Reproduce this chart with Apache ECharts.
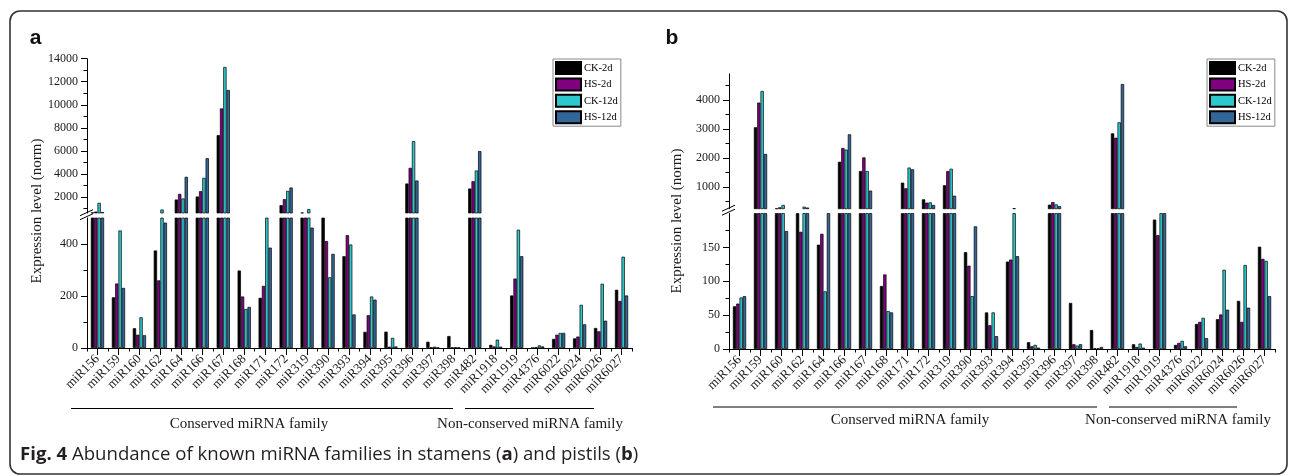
<!DOCTYPE html>
<html><head><meta charset="utf-8">
<script src="https://cdn.jsdelivr.net/npm/echarts@6/dist/echarts.min.js"></script>
<style>html,body{margin:0;padding:0;background:#fff}#c{width:1290px;height:476px}</style>
</head><body><div id="c"></div>
<script>
// ---------- data ----------
const categories = ['miR156','miR159','miR160','miR162','miR164','miR166','miR167','miR168','miR171','miR172','miR319','miR390','miR393','miR394','miR395','miR396','miR397','miR398','miR482','miR1918','miR1919','miR4376','miR6022','miR6024','miR6026','miR6027'];
const seriesNames = ['CK-2d','HS-2d','CK-12d','HS-12d'];
// panel a: stamens
const stamenCK2d  = [650, 195, 76, 375, 1770, 2030, 7360, 298, 193, 1280, 640, 510, 353, 62, 63, 3160, 24, 46, 2725, 12, 202, 1, 35, 37, 77, 224];
const stamenHS2d  = [720, 248, 51, 260, 2260, 2490, 9680, 198, 239, 1800, 520, 411, 434, 126, 5, 4520, 3, 2, 3360, 6, 267, 3, 51, 44, 64, 181];
const stamenCK12d = [1480, 452, 118, 900, 1860, 3650, 13280, 150, 520, 2520, 930, 272, 398, 198, 39, 6840, 5, 3, 4290, 32, 455, 10, 58, 166, 247, 351];
const stamenHS12d = [680, 231, 49, 482, 3740, 5360, 11280, 158, 386, 2810, 463, 362, 129, 186, 6, 3420, 2, 2, 5970, 5, 353, 6, 58, 91, 105, 202];
// panel b: pistils
const pistilCK2d  = [63, 3060, 265, 220, 154, 1870, 1550, 93, 1150, 575, 1060, 143, 54, 129, 10, 390, 68, 28, 2850, 7, 191, 6, 37, 44, 71, 151];
const pistilHS2d  = [67, 3910, 300, 173, 170, 2345, 2020, 110, 955, 460, 1550, 123, 35, 132, 4, 480, 7, 1, 2700, 3, 168, 9, 40, 51, 40, 133];
const pistilCK12d = [76, 4310, 380, 320, 85, 2290, 1550, 56, 1670, 470, 1630, 78, 54, 270, 6, 400, 5, 1, 3230, 8, 220, 12, 46, 117, 124, 130];
const pistilHS12d = [78, 2140, 174, 290, 220, 2815, 875, 54, 1610, 380, 700, 181, 19, 137, 2, 340, 7, 3, 4550, 2, 220, 4, 16, 58, 61, 78];
// tick labels
const aUpperTicks = [2000, 4000, 6000, 8000, 10000, 12000, 14000];
const aUpperMinor = [1000, 3000, 5000, 7000, 9000, 11000, 13000];
const aLowerTicks = [0, 200, 400];
const aLowerMinor = [100, 300];
const bUpperTicks = [1000, 2000, 3000, 4000];
const bUpperMinor = [500, 1500, 2500, 3500, 4500];
const bLowerTicks = [0, 50, 100, 150];
const bLowerMinor = [25, 75, 125, 175];
const groupLabels = ['Conserved miRNA family', 'Non-conserved miRNA family'];
const yTitle = 'Expression level (norm)';

// ---------- styles ----------
const SERIF = 'Liberation Serif';
const colors = ['#000000', '#800080', '#2cc8cc', '#336699'];

const grids = [
  {left: 87, top: 58.7, width: 545, height: 154.3},   // a upper
  {left: 87, top: 218, width: 545, height: 130},      // a lower
  {left: 729, top: 73.9, width: 546, height: 134.85}, // b upper
  {left: 729, top: 213.5, width: 546, height: 135.5}  // b lower
];

function yMain(g, min, max, ticks) {
  return {type: 'value', gridIndex: g, min: min, max: max, position: 'left',
    splitLine: {show: false},
    axisLine: {show: true, lineStyle: {color: '#000', width: 1}},
    axisTick: {show: true, inside: false, length: 6, customValues: ticks, lineStyle: {color: '#000'}},
    axisLabel: {show: true, customValues: ticks, margin: 9, fontFamily: SERIF, fontSize: 12, color: '#1a1a1a',
      formatter: function (v) { return String(v); }}};
}
function yMinor(g, min, max, ticks) {
  return {type: 'value', gridIndex: g, min: min, max: max, position: 'left', offset: 0,
    splitLine: {show: false},
    axisLine: {show: false},
    axisTick: {show: true, inside: false, length: 3.5, customValues: ticks, lineStyle: {color: '#000'}},
    axisLabel: {show: false}};
}
function xMain(g) {
  return {type: 'category', gridIndex: g, data: categories, position: 'bottom', boundaryGap: true,
    axisLine: {show: true, onZero: false, lineStyle: {color: '#000', width: 1}},
    axisTick: {show: true, alignWithLabel: true, interval: 0, length: 7, lineStyle: {color: '#000'}},
    axisLabel: {interval: 0, rotate: 45, margin: 9, fontFamily: SERIF, fontSize: 13, color: '#1a1a1a'}};
}
function xMinor(g) {
  return {type: 'category', gridIndex: g, data: categories, position: 'bottom', boundaryGap: true,
    axisLine: {show: false, onZero: false},
    axisTick: {show: true, interval: 0, length: 3.5, lineStyle: {color: '#000'}},
    axisLabel: {show: false}};
}
function xHidden(g) {
  return {type: 'category', gridIndex: g, data: categories, show: false, boundaryGap: true};
}

const xAxis = [xHidden(0), xMain(1), xMinor(1), xHidden(2), xMain(3), xMinor(3)];
const yAxis = [
  yMain(0, 600, 14000, aUpperTicks), yMinor(0, 600, 14000, aUpperMinor),
  yMain(1, 0, 500, aLowerTicks), yMinor(1, 0, 500, aLowerMinor),
  yMain(2, 250, 4900, bUpperTicks), yMinor(2, 250, 4900, bUpperMinor),
  yMain(3, 0, 200, bLowerTicks), yMinor(3, 0, 200, bLowerMinor)
];

const stamen = [stamenCK2d, stamenHS2d, stamenCK12d, stamenHS12d];
const pistil = [pistilCK2d, pistilHS2d, pistilCK12d, pistilHS12d];
const series = [];
function addBars(dataSets, xIdx, yIdx) {
  dataSets.forEach((d, i) => {
    series.push({type: 'bar', name: seriesNames[i], data: d, xAxisIndex: xIdx, yAxisIndex: yIdx,
      barWidth: 3.3, barGap: '0%', clip: true, silent: true,
      itemStyle: {color: colors[i], borderColor: '#000', borderWidth: 0.7}});
  });
}
addBars(stamen, 0, 0);
addBars(stamen, 1, 2);
addBars(pistil, 3, 4);
addBars(pistil, 4, 6);

function legendAt(left) {
  return {data: seriesNames, orient: 'vertical', left: left, top: 59,
    itemWidth: 25, itemHeight: 12, itemGap: 2.4, icon: 'rect',
    padding: [2, 3, 2, 2], borderColor: '#888', borderWidth: 1, backgroundColor: '#fff',
    selectedMode: false,
    textStyle: {fontFamily: SERIF, fontSize: 10.5, color: '#000', padding: [0, 0, 0, -2]}};
}

function breakMarks(x, yc) {
  return [
    {type: 'line', shape: {x1: x - 7, y1: yc + 1.2, x2: x + 6, y2: yc - 4.8}, style: {stroke: '#000', lineWidth: 1}},
    {type: 'line', shape: {x1: x - 7, y1: yc + 5.2, x2: x + 6, y2: yc - 0.8}, style: {stroke: '#000', lineWidth: 1}}
  ];
}
function txt(x, y, text, opt) {
  return {type: 'text', x: x, y: y, style: Object.assign({text: text, fontFamily: SERIF, fontSize: 15, fill: '#1a1a1a', align: 'center', verticalAlign: 'middle'}, opt || {})};
}
function hline(x1, x2, y) {
  return {type: 'line', shape: {x1: x1, y1: y, x2: x2, y2: y}, style: {stroke: '#000', lineWidth: 1.2}};
}

const CAP = 'Open Sans';
const graphic = [
  {type: 'rect', shape: {x: 10, y: 11, width: 1277, height: 463, r: 10}, style: {fill: 'none', stroke: '#333', lineWidth: 1.6}},
  txt(35.5, 38.5, 'a', {fontFamily: 'Liberation Sans', fontWeight: 'bold', fontSize: 21, fill: '#111'}),
  txt(672, 38.5, 'b', {fontFamily: 'Liberation Sans', fontWeight: 'bold', fontSize: 21, fill: '#111'}),
  Object.assign(txt(37, 211, yTitle), {rotation: Math.PI / 2}),
  Object.assign(txt(677, 221, yTitle), {rotation: Math.PI / 2}),
  hline(71, 453, 408.5), hline(465, 594, 408.5),
  txt(249, 424, groupLabels[0]), txt(530, 424, groupLabels[1]),
  hline(713, 1097, 407), hline(1109, 1237, 407),
  txt(910, 420, groupLabels[0]), txt(1178, 420, groupLabels[1]),
  {type: 'text', x: 20, y: 455, style: {text: '{b|Fig. 4} Abundance of known miRNA families in stamens ({b|a}) and pistils ({b|b})',
    fontFamily: CAP, fontSize: 18.6, fill: '#231f20', align: 'left', verticalAlign: 'middle',
    rich: {b: {fontWeight: 'bold', fontFamily: CAP, fontSize: 18.6, fill: '#231f20'}}}}
].concat(breakMarks(87, 214.5), breakMarks(729, 210));

const chart = echarts.init(document.getElementById('c'), null, {renderer: 'canvas'});
chart.setOption({
  animation: false,
  backgroundColor: '#fff',
  textStyle: {fontFamily: SERIF},
  grid: grids,
  xAxis: xAxis,
  yAxis: yAxis,
  legend: [legendAt(553), legendAt(1207)],
  series: series,
  graphic: graphic
});
</script>
</body></html>
